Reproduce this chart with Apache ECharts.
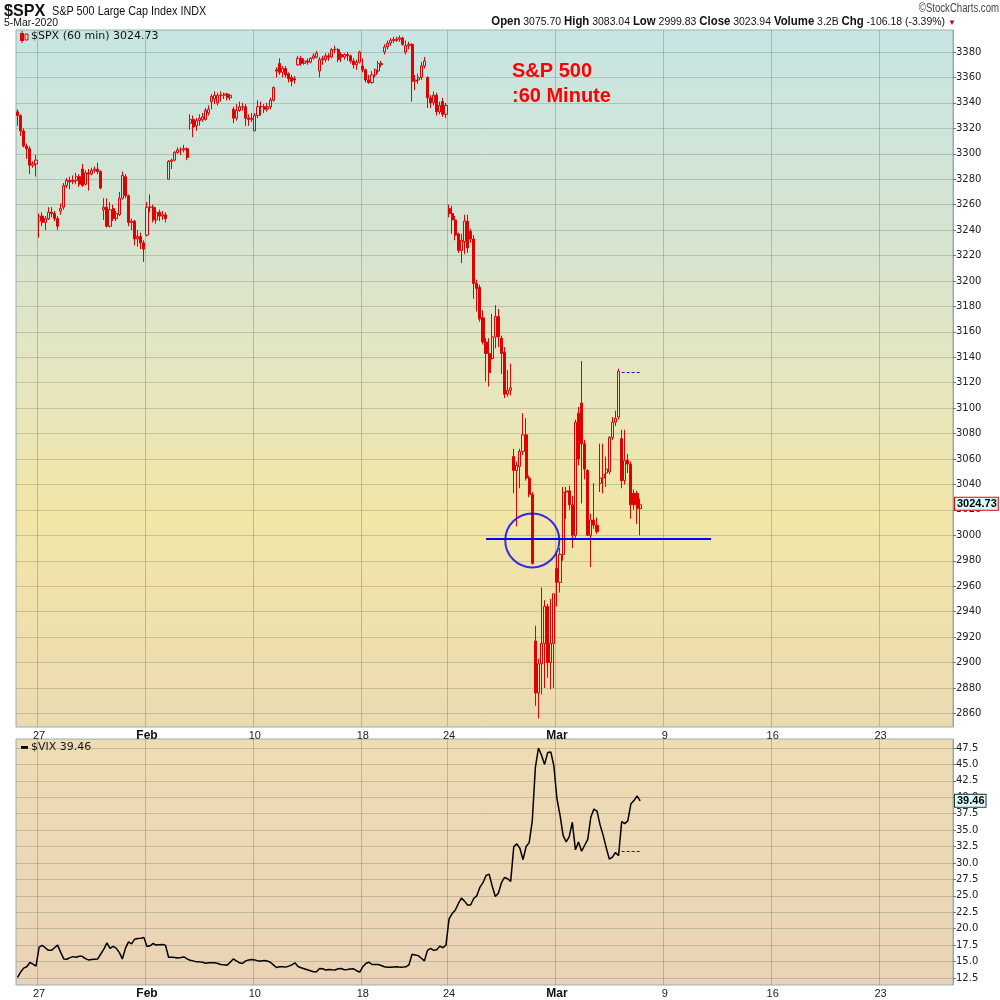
<!DOCTYPE html>
<html><head><meta charset="utf-8">
<script src="https://cdn.jsdelivr.net/npm/echarts@6/dist/echarts.min.js"></script>
<style>html,body{margin:0;padding:0;background:#fff}#c{width:1000px;height:1000px}</style>
</head><body><div id="c"></div><script>
// ---------- data ----------
const tradingDays = ['2020-01-24','2020-01-27','2020-01-28','2020-01-29','2020-01-30','2020-01-31',
 '2020-02-03','2020-02-04','2020-02-05','2020-02-06','2020-02-07','2020-02-10','2020-02-11','2020-02-12',
 '2020-02-13','2020-02-14','2020-02-18','2020-02-19','2020-02-20','2020-02-21','2020-02-24','2020-02-25',
 '2020-02-26','2020-02-27','2020-02-28','2020-03-02','2020-03-03','2020-03-04','2020-03-05','2020-03-06',
 '2020-03-09','2020-03-10','2020-03-11','2020-03-12','2020-03-13','2020-03-16','2020-03-17','2020-03-18',
 '2020-03-19','2020-03-20','2020-03-23','2020-03-24','2020-03-25','2020-03-26'];
const hours = ['09:30','10:30','11:30','12:30','13:30','14:30','15:30'];
const axisBarCount = 304;
const dateTickLabels = {'2020-01-27':'27','2020-02-03':'Feb','2020-02-10':'10','2020-02-18':'18',
 '2020-02-24':'24','2020-03-02':'Mar','2020-03-09':'9','2020-03-16':'16','2020-03-23':'23'};
const monthLabels = ['Feb','Mar'];

// SPX 60-min bars: [open, high, low, close]
const spxOHLC = [
 [3333,3335,3322,3330],[3330,3331,3314,3318],[3318,3320,3305,3306],[3306,3308,3296,3304],[3304,3306,3284,3291],[3291,3294,3289,3292],[3292,3299,3282,3295],
 [3247,3253,3234,3251],[3251,3254,3243,3246],[3246,3251,3240,3249],[3249,3258,3248,3254],[3254,3258,3250,3253],[3253,3255,3247,3249],[3249,3251,3240,3243],
 [3255,3261,3252,3257],[3258,3277,3256,3275],[3275,3281,3273,3279],[3279,3282,3272,3278],[3278,3283,3276,3279],[3279,3285,3276,3282],[3282,3284,3274,3276],
 [3288,3292,3274,3275],[3276,3287,3275,3285],[3285,3288,3271,3284],[3284,3289,3283,3287],[3287,3290,3285,3288],[3288,3293,3284,3286],[3286,3287,3272,3273],
 [3256,3265,3248,3258],[3258,3265,3242,3243],[3243,3262,3242,3256],[3257,3260,3247,3249],[3249,3255,3247,3253],[3252,3270,3251,3265],[3265,3286,3264,3283],
 [3282,3284,3265,3267],[3267,3268,3243,3246],[3246,3249,3240,3247],[3247,3248,3228,3233],[3233,3240,3227,3235],[3235,3238,3225,3230],[3230,3232,3215,3225],
 [3236,3262,3235,3258],[3258,3268,3254,3258],[3258,3260,3246,3248],[3248,3258,3245,3254],[3254,3256,3247,3251],[3251,3255,3248,3252],[3252,3254,3246,3249],
 [3280,3295,3280,3294],[3294,3296,3288,3295],[3295,3302,3294,3301],[3301,3305,3300,3303],[3303,3305,3299,3303],[3303,3307,3301,3304],[3304,3305,3295,3297],
 [3324,3331,3319,3327],[3327,3330,3313,3321],[3322,3328,3318,3326],[3326,3331,3322,3328],[3327,3332,3325,3329],[3327,3336,3326,3334],[3332,3338,3330,3335],
 [3341,3347,3335,3345],[3343,3349,3339,3346],[3340,3348,3338,3346],[3346,3349,3341,3346],[3346,3348,3343,3347],[3347,3348,3342,3344],[3344,3347,3342,3346],
 [3335,3337,3324,3328],[3328,3339,3326,3334],[3334,3341,3333,3337],[3337,3340,3334,3337],[3337,3339,3322,3328],[3328,3331,3322,3327],[3327,3332,3325,3328],
 [3318,3332,3318,3330],[3330,3342,3328,3337],[3337,3341,3330,3337],[3337,3339,3332,3335],[3335,3340,3333,3337],[3337,3344,3335,3342],[3342,3353,3341,3352],
 [3366,3368,3360,3365],[3371,3375,3362,3364],[3364,3369,3360,3367],[3367,3369,3360,3362],[3363,3364,3356,3359],[3360,3362,3353,3357],[3359,3361,3355,3358],
 [3370,3377,3369,3375],[3375,3377,3369,3371],[3371,3375,3370,3373],[3373,3375,3370,3372],[3372,3376,3371,3375],[3375,3379,3374,3377],[3376,3381,3375,3379],
 [3365,3376,3360,3374],[3374,3377,3370,3375],[3374,3379,3372,3377],[3377,3379,3373,3376],[3376,3383,3375,3382],[3382,3385,3379,3382],[3382,3383,3372,3374],
 [3378,3380,3372,3376],[3376,3379,3374,3378],[3378,3380,3373,3377],[3377,3378,3371,3373],[3373,3375,3367,3370],[3370,3374,3366,3372],[3372,3381,3371,3380],
 [3369,3375,3364,3366],[3366,3367,3356,3358],[3358,3362,3355,3356],[3356,3365,3355,3362],[3362,3367,3360,3366],[3365,3373,3363,3371],[3371,3373,3368,3370],
 [3380,3386,3378,3384],[3384,3389,3382,3387],[3387,3391,3385,3389],[3389,3392,3387,3390],[3389,3392,3388,3390],[3390,3393,3388,3391],[3391,3392,3385,3386],
 [3380,3389,3378,3385],[3385,3388,3382,3386],[3386,3387,3341,3357],[3357,3362,3350,3358],[3358,3363,3355,3360],[3360,3372,3358,3369],[3369,3376,3367,3373],
 [3360,3361,3336,3344],[3344,3346,3336,3340],[3340,3349,3338,3346],[3346,3348,3330,3333],[3333,3341,3331,3338],[3341,3344,3329,3331],[3331,3340,3328,3338],
 [3257,3260,3250,3253],[3253,3259,3237,3248],[3248,3251,3232,3236],[3237,3238,3222,3224],[3224,3237,3214,3232],[3231,3252,3221,3247],[3247,3252,3222,3226],
 [3239,3241,3230,3233],[3233,3236,3186,3198],[3198,3201,3176,3194],[3195,3197,3168,3170],[3171,3177,3150,3152],[3152,3155,3121,3143],[3143,3155,3117,3128],
 [3139,3174,3138,3156],[3156,3181,3147,3172],[3172,3178,3148,3156],[3155,3157,3127,3143],[3144,3148,3108,3111],[3111,3130,3109,3114],[3114,3135,3110,3116],
 [3062,3068,3033,3051],[3051,3058,3007,3055],[3054,3068,3037,3066],[3066,3096,3063,3079],[3079,3092,3043,3045],[3045,3047,3030,3032],[3032,3034,2977,2978],
 [2917,2929,2866,2876],[2876,2903,2856,2899],[2899,2959,2875,2915],[2915,2949,2880,2944],[2944,2946,2888,2900],[2900,2950,2879,2915],[2915,2954,2880,2954],
 [2974,2986,2944,2963],[2963,2990,2955,2985],[2985,3038,2980,3034],[3034,3038,3013,3035],[3035,3039,3020,3024],[3024,3031,2990,3000],[3000,3091,2998,3089],
 [3096,3101,3055,3060],[3104,3137,3025,3072],[3072,3075,3044,3052],[3051,3052,3000,3000],[3000,3017,2975,3012],[3012,3041,3005,3008],[3008,3014,3001,3003],
 [3041,3072,3034,3045],[3045,3072,3033,3048],[3049,3062,3038,3052],[3050,3078,3048,3077],[3077,3093,3075,3089],[3089,3098,3086,3092],[3093,3131,3091,3129],
 [3076,3083,3037,3043],[3043,3083,3040,3059],[3059,3064,3049,3056],[3056,3058,3013,3024],[3033,3036,3020,3024],[3033,3035,3009,3021],[3021,3029,3000,3024]
];
const vixClose = [
 12.6,13.4,14.0,14.2,14.85,14.6,14.3,
 17.2,17.45,17.1,16.7,16.7,17.1,17.5,
 16.4,15.4,15.35,15.6,15.75,15.65,15.8,
 15.8,15.45,15.25,15.3,15.35,15.4,16.15,
 16.9,17.85,17.0,17.3,17.05,16.4,15.4,
 17.0,18.0,17.7,18.4,18.5,18.55,18.65,
 17.3,17.4,17.75,17.5,17.55,17.6,17.5,
 15.65,15.65,15.6,15.55,15.6,15.7,15.4,
 15.2,15.1,14.95,14.95,14.9,14.75,14.8,
 14.8,14.8,14.7,14.55,14.5,14.45,14.9,
 15.4,15.1,14.8,14.7,15.1,15.25,15.3,
 15.25,15.1,15.1,15.15,15.1,14.9,14.5,
 14.1,14.2,14.2,14.15,14.3,14.5,14.8,
 14.25,14.05,13.9,13.75,13.6,13.45,13.45,
 13.95,13.9,13.72,13.8,13.75,13.72,13.9,
 13.95,13.75,13.8,13.88,13.9,13.6,13.4,
 14.2,14.7,14.9,14.55,14.55,14.55,14.4,
 14.2,14.12,14.12,14.18,14.2,14.15,14.15,
 14.2,14.5,16.1,16.0,15.9,15.5,15.1,
 16.7,17.0,16.7,16.8,17.35,17.1,17.5,
 21.5,22.3,22.8,23.8,24.65,24.2,23.6,
 23.6,24.6,25.0,26.3,27.0,28.1,28.3,
 26.5,24.9,25.4,27.0,27.8,27.6,27.2,
 32.5,32.9,32.2,30.5,32.5,33.1,36.4,
 44.5,47.5,46.4,45.0,46.8,46.9,44.8,
 39.8,37.3,34.2,33.2,34.0,36.2,32.0,
 33.2,31.8,32.7,33.6,37.0,38.2,37.9,
 35.8,34.2,32.3,30.6,30.9,31.6,31.1,
 36.3,36.0,36.4,39.0,39.5,40.2,39.46
];
const spxTicks = [2860,2880,2900,2920,2940,2960,2980,3000,3020,3040,3060,3080,3100,3120,3140,3160,3180,3200,3220,3240,3260,3280,3300,3320,3340,3360,3380];
const vixTicks = [12.5,15,17.5,20,22.5,25,27.5,30,32.5,35,37.5,40,42.5,45,47.5];
const spxRange = [2849.3, 3397.3];
const vixRange = [11.43, 48.87];
const spxLast = 3024.73, vixLast = 39.46;
const spxPrevClose = 3128.5, vixPrevClose = 31.82;
const supportLevel = 2997;
const supportFrom = '2020-02-25 14:30', supportTo = '2020-03-11 10:30';
const circleAt = ['2020-02-27 15:30', 2996];
const prevCloseFrom = '2020-03-05 09:30', prevCloseTo = '2020-03-05 15:30';

// ---------- build ----------
const categories = [];
tradingDays.forEach(d => hours.forEach(h => categories.push(d + ' ' + h)));
const cats = categories.slice(0, axisBarCount);
const isTick = v => v.endsWith('09:30') && dateTickLabels[v.slice(0,10)] !== undefined;
const gridLine = 'rgba(110,125,105,0.32)';
const FONT = 'Liberation Sans, Arial, sans-serif';
const NARROW = '"Liberation Sans Narrow", "Liberation Sans", sans-serif';

function xAxis(gi){
  return {type:'category', gridIndex:gi, data:cats, boundaryGap:true,
    axisLine:{show:false}, axisTick:{show:false},
    axisLabel:{interval:(i,v)=>isTick(v), margin:3, fontFamily:FONT, fontSize:11, color:'#222',
      formatter:v=>{const t=dateTickLabels[v.slice(0,10)]; return monthLabels.includes(t)?'{m|'+t+'}':t;},
      rich:{m:{fontWeight:'bold', fontSize:12, fontFamily:FONT, color:'#111'}}},
    splitLine:{show:true, interval:(i,v)=>isTick(v), lineStyle:{color:'rgba(110,125,105,0.4)', width:1}}};
}
function yAxis(gi, range, ticks, fmt){
  return {type:'value', gridIndex:gi, position:'right', min:range[0], max:range[1],
    axisLine:{show:true, lineStyle:{color:'#8fa6ae', type:'dotted'}},
    axisTick:{show:true, length:3, customValues:ticks, lineStyle:{color:'#777'}},
    axisLabel:{customValues:ticks, margin:3, fontFamily:'DejaVu Sans, sans-serif', fontSize:10, color:'#222', formatter:fmt},
    splitLine:{show:true, lineStyle:{color:gridLine, width:1}}};
}
const mainBg = {type:'linear', x:0, y:0, x2:0, y2:1, colorStops:[
  {offset:0, color:'#c7e5e3'},{offset:0.3, color:'#d6e4d0'},{offset:0.5, color:'#e6e6bf'},
  {offset:0.7, color:'#f2e6a7'},{offset:1, color:'#ecdab1'}]};
const vixBg = {type:'linear', x:0, y:0, x2:0, y2:1, colorStops:[
  {offset:0, color:'#eedcb3'},{offset:1, color:'#ead3b6'}]};

function priceTag(val, txt, border){
  return {yAxis:val, lineStyle:{color:'rgba(0,0,0,0)', width:0},
    label:{show:true, position:'end', distance:2, formatter:txt, fontFamily:'Liberation Sans, Arial, sans-serif',
      fontSize:11, fontWeight:'bold', color:'#000', backgroundColor:'#d8fbfb', borderColor:border,
      borderWidth:1, padding:[1,1,0,2]}};
}

const option = {
  animation:false,
  backgroundColor:'#ffffff',
  grid:[
    {left:16, right:47, top:30, height:697, show:true, backgroundColor:mainBg, borderColor:'#97aeb6', borderWidth:1},
    {left:16, right:47, top:739, height:246, show:true, backgroundColor:vixBg, borderColor:'#97aeb6', borderWidth:1}
  ],
  xAxis:[xAxis(0), xAxis(1)],
  yAxis:[yAxis(0, spxRange, spxTicks, v=>String(v)), yAxis(1, vixRange, vixTicks, v=>v.toFixed(1))],
  series:[
    {type:'candlestick', xAxisIndex:0, yAxisIndex:0, barWidth:2.6,
     data:spxOHLC.map(r=>[r[0], r[3], r[2], r[1]]),
     itemStyle:{color:'rgba(0,0,0,0)', color0:'#e00000', borderColor:'#e00000', borderColor0:'#e00000', borderWidth:1},
     markLine:{symbol:'none', silent:true, animation:false, data:[
       [{coord:[supportFrom, supportLevel], lineStyle:{color:'#0000ff', width:2, type:'solid'}, label:{show:false}},
        {coord:[supportTo, supportLevel]}],
       [{coord:[prevCloseFrom, spxPrevClose], lineStyle:{color:'#1a1aa0', width:1, type:[3,2]}, label:{show:false}},
        {coord:[prevCloseTo, spxPrevClose]}],
       priceTag(spxLast, String(spxLast), '#e00000')
     ]}},
    {type:'scatter', xAxisIndex:0, yAxisIndex:0, silent:true, z:5, data:[circleAt], symbol:'circle', symbolSize:54,
     itemStyle:{color:'rgba(0,0,0,0)', borderColor:'#0000ff', borderWidth:2}},
    {type:'line', xAxisIndex:1, yAxisIndex:1, data:vixClose, symbol:'none', lineStyle:{color:'#000', width:1.5},
     markLine:{symbol:'none', silent:true, animation:false, data:[
       [{coord:[prevCloseFrom, vixPrevClose], lineStyle:{color:'#1a1aa0', width:1, type:[3,2]}, label:{show:false}},
        {coord:[prevCloseTo, vixPrevClose]}],
       priceTag(vixLast, vixLast.toFixed(2), '#333')
     ]}}
  ],
  graphic:[
    {type:'text', x:4, y:3, scaleX:0.95, style:{text:'$SPX', font:'bold 17px '+NARROW, fill:'#111'}},
    {type:'text', x:52, y:6, scaleX:0.9, style:{text:'S&P 500 Large Cap Index INDX', font:'12px '+NARROW, fill:'#111'}},
    {type:'text', x:4, y:17, scaleX:0.95, style:{text:'5-Mar-2020', font:'11px '+NARROW, fill:'#111'}},
    {type:'text', x:999, y:3, scaleX:0.8, style:{text:'©StockCharts.com', align:'right', font:'12px '+NARROW, fill:'#444'}},
    {type:'text', x:945, y:16, scaleX:0.95, style:{text:'{b|Open} 3075.70 {b|High} 3083.04 {b|Low} 2999.83 {b|Close} 3023.94 {b|Volume} 3.2B {b|Chg} -106.18 (-3.39%)',
      align:'right', font:'11px '+NARROW, fill:'#111',
      rich:{b:{font:'bold 12px '+NARROW, fill:'#111'}}}},
    {type:'text', x:948, y:19, style:{text:'▼', font:'8px sans-serif', fill:'#b0003a'}},
    {type:'rect', x:20, y:33, shape:{width:4, height:8}, style:{fill:'#e00000'}},
    {type:'rect', x:21.5, y:31, shape:{width:1, height:12}, style:{fill:'#e00000'}},
    {type:'rect', x:25, y:34, shape:{width:3, height:6}, style:{fill:'none', stroke:'#e00000', lineWidth:1}},
    {type:'text', x:31, y:31, style:{text:'$SPX (60 min) 3024.73', font:'11px "DejaVu Sans", sans-serif', fill:'#111'}},
    {type:'text', x:512, y:61, style:{text:'S&P 500', font:'bold 20px "Liberation Sans", Arial, sans-serif', fill:'#ff0000'}},
    {type:'text', x:512, y:86, style:{text:':60 Minute', font:'bold 20px "Liberation Sans", Arial, sans-serif', fill:'#ff0000'}},
    {type:'rect', x:21, y:746, shape:{width:7, height:3}, style:{fill:'#000'}},
    {type:'text', x:31, y:742, style:{text:'$VIX 39.46', font:'11px "DejaVu Sans", sans-serif', fill:'#111'}}
  ]
};
const chart = echarts.init(document.getElementById('c'), null, {renderer:'canvas'});
chart.setOption(option);
</script></body></html>
